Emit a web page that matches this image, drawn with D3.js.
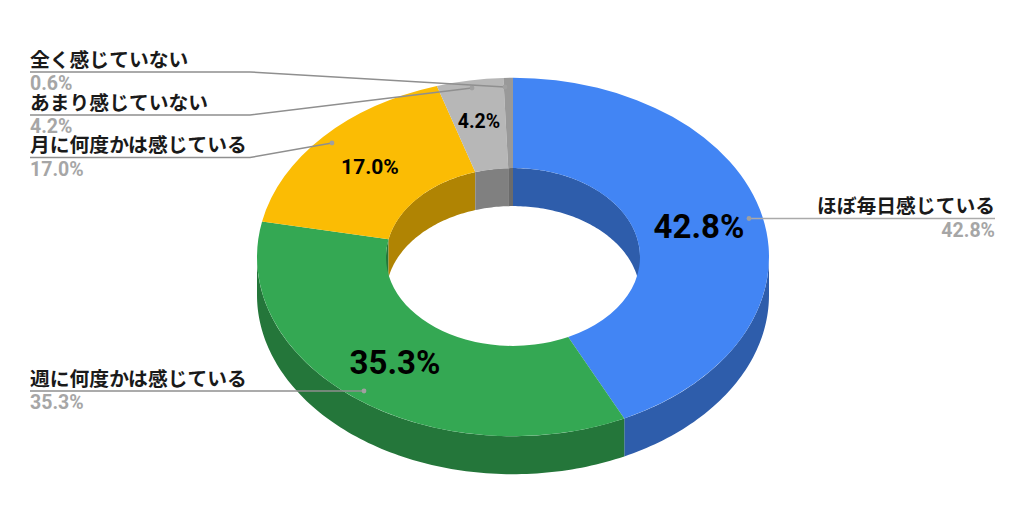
<!DOCTYPE html>
<html>
<head>
<meta charset="utf-8">
<script src="https://cdn.jsdelivr.net/npm/d3@7"></script>
<style>
  body { margin: 0; background: #fff; }
  svg { display: block; }
  text { font-family: Roboto, "Noto Sans CJK JP", sans-serif; }
  .pct { font-family: Roboto, sans-serif; }
</style>
</head>
<body>
<svg id="chart" width="1024" height="512"></svg>
<script>
const categories = ['ほぼ毎日感じている', '週に何度かは感じている', '月に何度かは感じている', 'あまり感じていない', '全く感じていない'];
const values = [42.8, 35.3, 17.0, 4.2, 0.6];
const colors = ['#4285f4', '#34a853', '#fbbc04', '#b7b7b7', '#999999'];

const cx = 513, cy = 257;
const outerR = 256, innerR = 127;
const squash = 0.7;   // tilt of the donut
const depth = 38;

// label placement, same order as categories
const labelX = [995, 30, 30, 30, 30];
const labelAnchor = ['end', 'start', 'start', 'start', 'start'];
const ruleY = [218.5, 391, 157.5, 115, 72];
const elbowX = [995, 30, 250, 250, 250];
const ruleColor = ['#aaaaaa', '#8f8f8f', '#8f8f8f', '#8f8f8f', '#8f8f8f'];
const dotX = [749, 364, 332, 472, 505];
const dotY = [218.5, 391, 143, 88, 87];
const insideX = [699, 395, 370, 479, null];
const insideY = [226, 362, 167, 121, null];
const insideSize = [33, 33, 21, 19.5, null];

const svg = d3.select('#chart');

const pie = d3.pie().sort(null).value(d => d)(values);
const arc = d3.arc().innerRadius(innerR).outerRadius(outerR);

const ex = (a, r) => r * Math.sin(a);
const ey = (a, r) => -r * squash * Math.cos(a);

// wall between the top rim and the same rim moved down by depth
function wall(a0, a1, r) {
    if (a1 <= a0) return null;
    const n = Math.max(2, Math.ceil((a1 - a0) / 0.02));
    const angles = d3.range(n + 1).map(i => a0 + (a1 - a0) * i / n);
    const area = d3.area()
        .x(a => ex(a, r))
        .y0(a => ey(a, r))
        .y1(a => ey(a, r) + depth);
    return area(angles);
}

const TAU = Math.PI * 2;
const chart = svg.append('g').attr('transform', `translate(${cx},${cy})`);

pie.forEach((d, i) => {
    const shadeColor = d3.interpolateRgb(colors[i], '#000')(0.3);
    // outer wall only shows on the lower half
    const lo = Math.max(d.startAngle, Math.PI / 2), hi = Math.min(d.endAngle, Math.PI * 1.5);
    const outer = wall(lo, hi, outerR);
    if (outer) chart.append('path').attr('d', outer).attr('fill', shadeColor);
    // inner wall only shows on the upper half
    [[d.startAngle, Math.min(d.endAngle, Math.PI / 2)], [Math.max(d.startAngle, Math.PI * 1.5), Math.min(d.endAngle, TAU)]].forEach(([a, b]) => {
        const inner = wall(a, b, innerR);
        if (inner) chart.append('path').attr('d', inner).attr('fill', shadeColor);
    });
});

chart.append('g')
    .attr('transform', `scale(1,${squash})`)
    .selectAll('path')
    .data(pie)
    .enter()
    .append('path')
    .attr('d', arc)
    .attr('fill', (d, i) => colors[i]);

// leader lines
categories.forEach((c, i) => {
    const pts = [[labelX[i], ruleY[i]], [elbowX[i], ruleY[i]], [dotX[i], dotY[i]]];
    svg.append('path')
        .attr('d', d3.line()(pts))
        .attr('fill', 'none')
        .attr('stroke', ruleColor[i])
        .attr('stroke-width', 1.5);
    svg.append('circle')
        .attr('cx', dotX[i]).attr('cy', dotY[i]).attr('r', 2.4)
        .attr('fill', '#a0a0a0');
    svg.append('text')
        .attr('x', labelX[i]).attr('y', ruleY[i] - 5.5)
        .attr('text-anchor', labelAnchor[i])
        .attr('font-size', 19.8).attr('font-weight', 700)
        .attr('fill', '#1a1a1a')
        .text(c);
    svg.append('text')
        .attr('class', 'pct')
        .attr('x', labelX[i]).attr('y', ruleY[i] + 18)
        .attr('text-anchor', labelAnchor[i])
        .attr('font-size', 19.5).attr('font-weight', 700)
        .attr('fill', '#a6a6a6')
        .text(d3.format('.1f')(values[i]) + '%');
});

// values inside the slices
values.forEach((v, i) => {
    if (insideX[i] === null) return;
    svg.append('text')
        .attr('class', 'pct')
        .attr('x', insideX[i]).attr('y', insideY[i])
        .attr('text-anchor', 'middle').attr('dominant-baseline', 'central')
        .attr('font-size', insideSize[i]).attr('font-weight', 700)
        .attr('fill', '#000')
        .text(d3.format('.1f')(v) + '%');
});
</script>
</body>
</html>
